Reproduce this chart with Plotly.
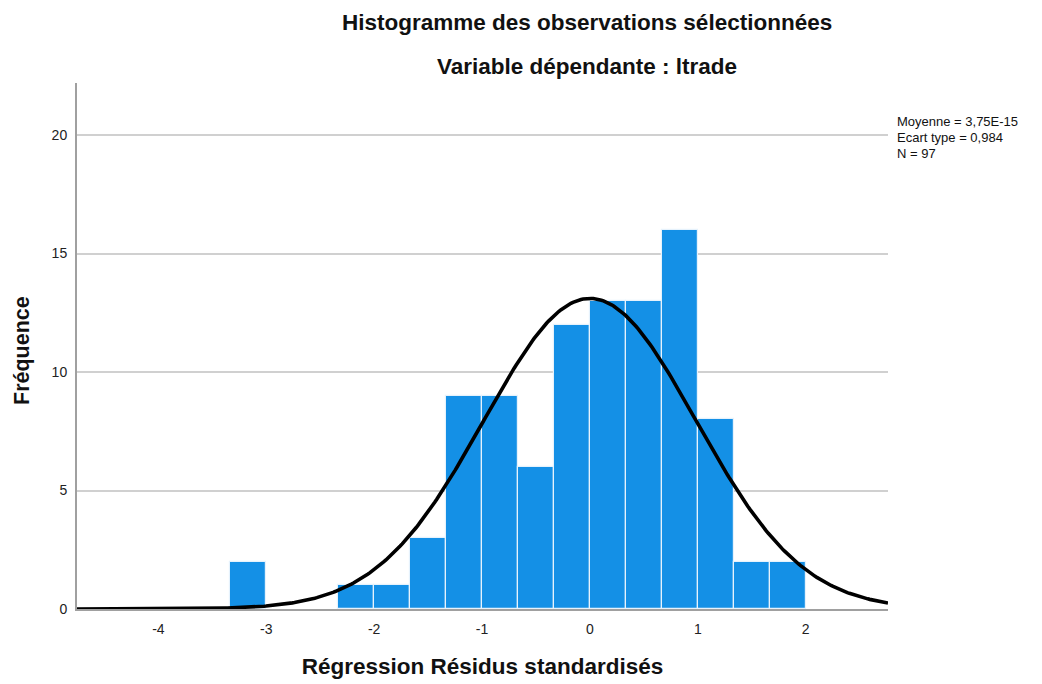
import numpy as np
import plotly.graph_objects as go

# Histogram bins (left edges, width 1/3) and counts
bin_width = 1.0 / 3.0
bin_left = [-10/3, -7/3, -2.0, -5/3, -4/3, -1.0, -2/3, -1/3, 0.0, 1/3, 2/3, 1.0, 4/3, 5/3]
counts = [2, 1, 1, 3, 9, 9, 6, 12, 13, 13, 16, 8, 2, 2]

# Summary statistics shown in the legend
mean_val = 3.75e-15
sd_val = 0.984
n_obs = 97
stats_lines = ["Moyenne = 3,75E-15", "Ecart type = 0,984", "N = 97"]

x_ticks = [-4, -3, -2, -1, 0, 1, 2]
y_ticks = [0, 5, 10, 15, 20]
x_range = [-4.754, 2.763]
y_range = [0, 22.2]

centers = [l + bin_width / 2 for l in bin_left]

# Fitted normal curve scaled to counts
xc = np.linspace(x_range[0], x_range[1], 400)
yc = n_obs * bin_width / (sd_val * np.sqrt(2 * np.pi)) * np.exp(-0.5 * ((xc - mean_val) / sd_val) ** 2)

fig = go.Figure()
fig.add_trace(go.Bar(
    x=centers, y=counts, width=bin_width,
    marker=dict(color="#1490E6", line=dict(color="#E6F2FC", width=1.2)),
    showlegend=False, hoverinfo="x+y",
))
fig.add_trace(go.Scatter(
    x=xc, y=yc, mode="lines",
    line=dict(color="black", width=3.6),
    showlegend=False, hoverinfo="skip", cliponaxis=True,
))

font_family = "Liberation Sans, Arial, sans-serif"
L, T = 69, 75
PW, PH = 811, 526
title_x = (587 - 77) / PW

annotations = [
    dict(text="<b>Histogramme des observations sélectionnées</b>",
         xref="paper", yref="paper", x=title_x, y=1,
         yshift=T - 14, xanchor="center", yanchor="middle",
         showarrow=False, font=dict(size=22.5, color="#111111")),
    dict(text="<b>Variable dépendante : ltrade</b>",
         xref="paper", yref="paper", x=title_x, y=1,
         yshift=T - 58, xanchor="center", yanchor="middle",
         showarrow=False, font=dict(size=22.5, color="#111111")),
    dict(text="<b>Fréquence</b>", textangle=-90,
         xref="paper", yref="paper", x=0, xshift=-(L - 14), y=1, yshift=-(351 - 8 - T),
         xanchor="center", yanchor="middle",
         showarrow=False, font=dict(size=21.5, color="#111111")),
]
for i, line in enumerate(stats_lines):
    annotations.append(dict(
        text=line, xref="paper", yref="paper", x=1, xshift=7, y=1,
        yshift=T - (113 + 16 * i), xanchor="left", yanchor="middle", align="left",
        showarrow=False, font=dict(size=13, color="#111111")))

fig.update_layout(
    width=1034, height=676,
    margin=dict(l=L, r=1034 - L - PW, t=T, b=676 - T - PH),
    paper_bgcolor="white", plot_bgcolor="white",
    font=dict(family=font_family, color="#222222"),
    bargap=0,
    xaxis=dict(
        range=x_range, tickvals=x_ticks, ticktext=[str(t) for t in x_ticks],
        showgrid=False, zeroline=False, automargin=False,
        showline=True, linecolor="#A0A0A0", linewidth=2,
        ticks="", tickfont=dict(size=14, color="#222222"), ticklabelstandoff=6,
        title=dict(text="<b>Régression Résidus standardisés</b>",
                   font=dict(size=22.5, color="#111111"), standoff=22),
    ),
    yaxis=dict(
        range=y_range, tickvals=y_ticks, ticktext=[str(t) for t in y_ticks],
        showgrid=True, gridcolor="#D0D0D0", gridwidth=1.5, zeroline=False, automargin=False,
        showline=True, linecolor="#A0A0A0", linewidth=2,
        ticks="", tickfont=dict(size=14, color="#222222"), ticklabelstandoff=5,
    ),
    annotations=annotations,
)

fig.write_html("out.html")
